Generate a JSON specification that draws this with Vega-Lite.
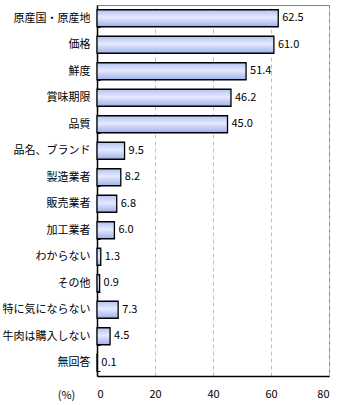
{
  "$schema": "https://vega.github.io/schema/vega-lite/v6.json",
  "autosize": "none",
  "width": 232,
  "height": 371,
  "padding": {"left": 97, "top": 5, "right": 11, "bottom": 29},
  "background": "white",
  "config": {
    "view": {"stroke": "#808080", "strokeWidth": 1},
    "font": "Noto Sans CJK JP"
  },
  "data": {
    "values": [
      {"item": "原産国・原産地", "value": 62.5},
      {"item": "価格", "value": 61.0},
      {"item": "鮮度", "value": 51.4},
      {"item": "賞味期限", "value": 46.2},
      {"item": "品質", "value": 45.0},
      {"item": "品名、ブランド", "value": 9.5},
      {"item": "製造業者", "value": 8.2},
      {"item": "販売業者", "value": 6.8},
      {"item": "加工業者", "value": 6.0},
      {"item": "わからない", "value": 1.3},
      {"item": "その他", "value": 0.9},
      {"item": "特に気にならない", "value": 7.3},
      {"item": "牛肉は購入しない", "value": 4.5},
      {"item": "無回答", "value": 0.1}
    ]
  },
  "encoding": {
    "y": {
      "field": "item", "type": "nominal", "sort": null,
      "scale": {"paddingInner": 0.36, "paddingOuter": 0.18},
      "axis": {
        "title": null, "labelFontSize": 11, "labelColor": "#000", "labelPadding": 10,
        "domainColor": "#000", "domainWidth": 1.5, "tickColor": "#000",
        "tickBand": "extent", "tickSize": -3, "grid": false
      }
    },
    "x": {
      "field": "value", "type": "quantitative",
      "scale": {"domain": [0, 80]},
      "axis": {
        "values": [0, 20, 40, 60, 80], "ticks": false, "labelPadding": 12,
        "labelFontSize": 11, "labelColor": "#000", "domainColor": "#000", "domainWidth": 1.5,
        "grid": true, "gridDash": [4, 3], "gridColor": "#c0c0c0",
        "title": "(%)", "titleFontWeight": "normal", "titleFontSize": 11,
        "titleAnchor": "start", "titleAlign": "center", "titleX": -31, "titleY": 13, "titleBaseline": "top"
      }
    }
  },
  "layer": [
    {
      "mark": {
        "type": "bar", "stroke": "#000", "strokeWidth": 1.3,
        "fill": {
          "gradient": "linear", "x1": 0, "y1": 0, "x2": 0, "y2": 1,
          "stops": [
            {"offset": 0, "color": "#b4c2f2"},
            {"offset": 0.45, "color": "#e4eaff"},
            {"offset": 1, "color": "#9fb0ea"}
          ]
        }
      }
    },
    {
      "mark": {"type": "text", "align": "left", "dx": 4, "fontSize": 11, "color": "#000"},
      "encoding": {"text": {"field": "value", "type": "quantitative", "format": ".1f"}}
    }
  ]
}
